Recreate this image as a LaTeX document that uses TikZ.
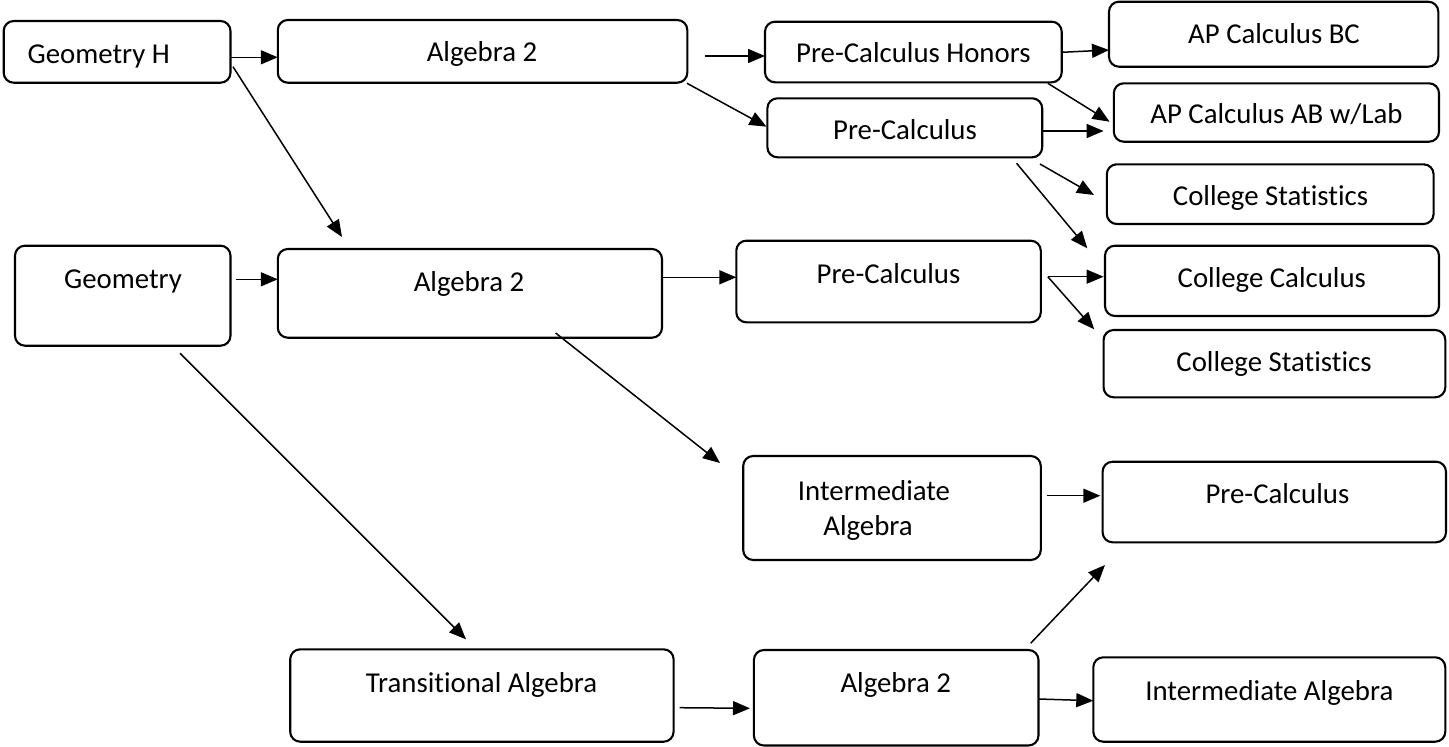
\documentclass[tikz,border=0pt]{standalone}
\usepackage{fontspec}
\setmainfont{Carlito}[Ligatures=NoCommon]
\usetikzlibrary{arrows.meta}
\newcommand\mybox[5]{\node[box, minimum width={#4pt-#2pt}, minimum height={#5pt-#3pt}] (#1) at ({(#2+#4)/2},{(#3+#5)/2}) {};}
\begin{document}
\begin{tikzpicture}[x=1pt,y=-1pt,
  box/.style={draw=black, line width=2.1pt, rounded corners=10pt, inner sep=0pt, outer sep=0pt},
  lbl/.style={anchor=base, inner sep=0pt, font=\fontsize{28.8}{34}\selectfont},
  arr/.style={draw=black, line width=1.5pt, -{Triangle[length=17pt,width=14pt]}}]
\useasboundingbox (0,0) rectangle (1449,747);
% boxes
\mybox{gh}{3.7}{21}{230.5}{82.7}
\mybox{atop}{277.8}{20}{687.3}{82.7}
\mybox{geo}{15}{245.7}{230.5}{345.7}
\mybox{amid}{277.8}{249}{662}{337.7}
\mybox{pch}{765}{21.7}{1061.7}{82.3}
\mybox{bc}{1109}{1.7}{1438.3}{66.7}
\mybox{ab}{1113.8}{83.3}{1439}{141.7}
\mybox{pcu}{767.4}{98.3}{1042.2}{157.3}
\mybox{csa}{1106.8}{164.3}{1433.6}{224}
\mybox{pcm}{736.3}{240.7}{1040.8}{322.3}
\mybox{cc}{1105}{245.7}{1439}{316}
\mybox{csb}{1103.6}{330}{1445.3}{397.3}
\mybox{ta}{290.2}{649.3}{673.6}{741.7}
\mybox{ia}{743.2}{456}{1040.8}{560}
\mybox{pcl}{1102.6}{461.7}{1446}{542.3}
\mybox{abot}{753.9}{650}{1038.5}{745.5}
\mybox{iab}{1093.3}{657.3}{1445.3}{741.7}
% labels
\node[lbl] (tgh) at (98.7,63.3) {Geometry H};
\node[lbl] (tatop) at (482,61.7) {Algebra 2};
\node[lbl] (tgeo) at (123,288.3) {Geometry};
\node[lbl] (tamid) at (469,291.7) {Algebra 2};
\node[lbl] (tpch) at (913.4,62.7) {Pre-Calculus Honors};
\node[lbl] (tbc) at (1274,43.3) {AP Calculus BC};
\node[lbl] (tab) at (1276.5,123.3) {AP Calculus AB w/Lab};
\node[lbl] (tpcu) at (905,139.3) {Pre-Calculus};
\node[lbl] (tcsa) at (1270.5,205) {College Statistics};
\node[lbl] (tpcm) at (888.5,283.3) {Pre-Calculus};
\node[lbl] (tcc) at (1271.8,287.7) {College Calculus};
\node[lbl] (tcsb) at (1274,371.7) {College Statistics};
\node[lbl] (tta) at (481.6,692.7) {Transitional Algebra};
\node[lbl] (tia1) at (874,500) {Intermediate};
\node[lbl] (tia2) at (868,535) {Algebra};
\node[lbl] (tpcl) at (1277.4,503.3) {Pre-Calculus};
\node[lbl] (tabot) at (895.7,692.3) {Algebra 2};
\node[lbl] (tiab) at (1269.3,700.7) {Intermediate Algebra};
% connector end points
\coordinate (s1) at (230.5,57.3); \coordinate (e1) at (277.8,57.3);
\coordinate (s2) at (233,66.7);   \coordinate (e2) at (342,237);
\coordinate (s3) at (705,56);     \coordinate (e3) at (765,56);
\coordinate (s4) at (687,83.3);   \coordinate (e4) at (766.5,126.7);
\coordinate (s5) at (1061.7,52.3);\coordinate (e5) at (1109,50);
\coordinate (s6) at (1047.8,83.3);\coordinate (e6) at (1109.6,121.7);
\coordinate (s7) at (1042,131);   \coordinate (e7) at (1103.6,131);
\coordinate (s8) at (1040,164);   \coordinate (e8) at (1094,195);
\coordinate (s9) at (1016.6,163.3);\coordinate (e9) at (1087.3,248.3);
\coordinate (s10) at (235.5,279.3);\coordinate (e10) at (277.8,279.3);
\coordinate (s11) at (662,277.3); \coordinate (e11) at (736.3,277.3);
\coordinate (s12) at (1047.8,276.7);\coordinate (e12) at (1103.6,276.7);
\coordinate (e13) at (1094.2,329.3);
\coordinate (s14) at (180,353.3); \coordinate (e14) at (466,639.3);
\coordinate (s15) at (555.6,333); \coordinate (e15) at (720,463);
\coordinate (s16) at (1046.8,495.7);\coordinate (e16) at (1100.3,495.7);
\coordinate (s17) at (679.5,707.7);\coordinate (e17) at (750,708.3);
\coordinate (s18) at (1030.6,643.3);\coordinate (e18) at (1105,565);
\coordinate (s19) at (1038.5,699); \coordinate (e19) at (1093.3,700.7);
% connectors
\draw[arr] (s1) -- (e1);
\draw[arr] (s2) -- (e2);
\draw[arr] (s3) -- (e3);
\draw[arr] (s4) -- (e4);
\draw[arr] (s5) -- (e5);
\draw[arr] (s6) -- (e6);
\draw[arr] (s7) -- (e7);
\draw[arr] (s8) -- (e8);
\draw[arr] (s9) -- (e9);
\draw[arr] (s10) -- (e10);
\draw[arr] (s11) -- (e11);
\draw[arr] (s12) -- (e12);
\draw[arr] (s12) -- (e13);
\draw[arr] (s14) -- (e14);
\draw[arr] (s15) -- (e15);
\draw[arr] (s16) -- (e16);
\draw[arr] (s17) -- (e17);
\draw[arr] (s18) -- (e18);
\draw[arr] (s19) -- (e19);
\end{tikzpicture}
\end{document}
